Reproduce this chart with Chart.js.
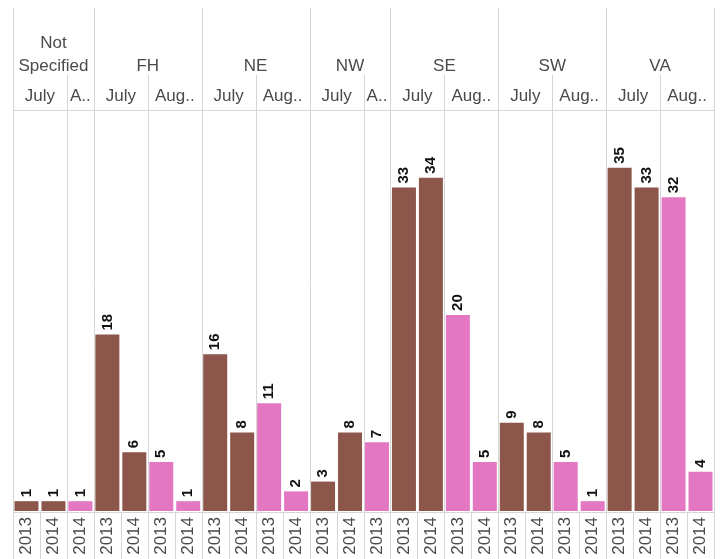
<!DOCTYPE html>
<html>
<head>
<meta charset="utf-8">
<script src="https://cdn.jsdelivr.net/npm/chart.js@4/dist/chart.umd.min.js"></script>
<style>
    html, body { margin: 0; padding: 0; background: #fff; }
    #wrap { width: 723px; height: 559px; position: relative; }
</style>
</head>
<body>
<div id="wrap"><canvas id="chart" width="723" height="559"></canvas></div>
<script>
// one entry per bar (leaf column), left to right
const region = ['Not Specified', 'Not Specified', 'Not Specified',
    'FH', 'FH', 'FH', 'FH',
    'NE', 'NE', 'NE', 'NE',
    'NW', 'NW', 'NW',
    'SE', 'SE', 'SE', 'SE',
    'SW', 'SW', 'SW', 'SW',
    'VA', 'VA', 'VA', 'VA'];
const month = ['July', 'July', 'August',
    'July', 'July', 'August', 'August',
    'July', 'July', 'August', 'August',
    'July', 'July', 'August',
    'July', 'July', 'August', 'August',
    'July', 'July', 'August', 'August',
    'July', 'July', 'August', 'August'];
const year = ['2013', '2014', '2014',
    '2013', '2014', '2013', '2014',
    '2013', '2014', '2013', '2014',
    '2013', '2014', '2013',
    '2013', '2014', '2013', '2014',
    '2013', '2014', '2013', '2014',
    '2013', '2014', '2013', '2014'];
const counts = [1, 1, 1,
    18, 6, 5, 1,
    16, 8, 11, 2,
    3, 8, 7,
    33, 34, 20, 5,
    9, 8, 5, 1,
    35, 33, 32, 4];

const monthColors = { July: '#8c564b', August: '#e377c2' };
const monthShort = { July: 'July', August: 'Aug..' };

const LINE = '#d6d6d6';
const FAMILY = '"Liberation Sans", Arial, sans-serif';
const HEAD_FONT = '17px ' + FAMILY;
const HEAD_COLOR = '#4a4a4a';

// group consecutive equal keys -> [{key, from, to}]
function runs(keys) {
    const out = [];
    keys.forEach((k, i) => {
        const last = out[out.length - 1];
        if (last && last.key === k) last.to = i;
        else out.push({ key: k, from: i, to: i });
    });
    return out;
}

const headers = {
    id: 'headers',
    beforeDatasetsDraw(chart) {
        const { ctx, chartArea: ca, scales: { x } } = chart;
        const colW = x.getPixelForValue(1) - x.getPixelForValue(0);
        const edge = i => x.getPixelForValue(i) - colW / 2;
        const H = chart.height;
        ctx.save();
        ctx.strokeStyle = LINE;
        ctx.lineWidth = 1;
        const vline = (px, y0, y1) => {
            const xx = Math.round(px) + 0.5;
            ctx.beginPath(); ctx.moveTo(xx, y0); ctx.lineTo(xx, y1); ctx.stroke();
        };
        const hline = (y, x0, x1) => {
            const yy = Math.round(y) + 0.5;
            ctx.beginPath(); ctx.moveTo(x0, yy); ctx.lineTo(x1, yy); ctx.stroke();
        };
        const L = edge(0), R = edge(counts.length);
        hline(ca.top - 1, L, R);
        hline(ca.bottom + 1, L, R);

        // leaf separators in the year row
        for (let i = 0; i <= counts.length; i++) vline(edge(i), ca.bottom + 1, H);

        const regRuns = runs(region);
        const monRuns = runs(region.map((r, i) => r + '|' + month[i]));

        regRuns.forEach(r => vline(edge(r.from), 8, H));
        vline(R, 8, H);
        monRuns.forEach(m => {
            if (m.from > 0 && region[m.from] === region[m.from - 1]) vline(edge(m.from), 75, ca.bottom + 1);
        });

        ctx.fillStyle = HEAD_COLOR;
        ctx.font = HEAD_FONT;
        ctx.textAlign = 'center';
        ctx.textBaseline = 'middle';
        regRuns.forEach(r => {
            const cx = (edge(r.from) + edge(r.to + 1)) / 2;
            const w = edge(r.to + 1) - edge(r.from) - 4;
            const lines = ctx.measureText(r.key).width > w ? r.key.split(' ') : [r.key];
            lines.forEach((t, j) => ctx.fillText(t, cx, 66 - (lines.length - 1 - j) * 23));
        });
        monRuns.forEach(m => {
            const cx = (edge(m.from) + edge(m.to + 1)) / 2;
            const mo = month[m.from];
            const t = (m.to === m.from && mo === 'August') ? 'A..' : monthShort[mo];
            ctx.fillText(t, cx, 96);
        });
        ctx.restore();
    },
    afterDatasetsDraw(chart) {
        const { ctx } = chart;
        const meta = chart.getDatasetMeta(0);
        ctx.save();
        ctx.fillStyle = '#111';
        ctx.font = 'bold 15px ' + FAMILY;
        ctx.textAlign = 'left';
        ctx.textBaseline = 'middle';
        meta.data.forEach((bar, i) => {
            ctx.save();
            ctx.translate(bar.x, bar.y - 4);
            ctx.rotate(-Math.PI / 2);
            ctx.fillText(String(counts[i]), 0, 0);
            ctx.restore();
        });
        ctx.restore();
    }
};

new Chart(document.getElementById('chart'), {
    type: 'bar',
    data: {
        labels: year,
        datasets: [{
            data: counts,
            backgroundColor: month.map(m => monthColors[m]),
            borderWidth: 0,
            barPercentage: 0.89,
            categoryPercentage: 1
        }]
    },
    options: {
        responsive: false,
        animation: false,
        layout: { padding: { left: 13, right: 9, top: 111, bottom: 0 } },
        plugins: { legend: { display: false }, tooltip: { enabled: false } },
        scales: {
            x: {
                grid: { display: false, drawTicks: false },
                border: { display: false },
                ticks: {
                    autoSkip: false, minRotation: 90, maxRotation: 90, padding: 6,
                    color: HEAD_COLOR,
                    font: { family: FAMILY, size: 17 }
                },
                afterFit(scale) {
                    scale.height = 48;
                    scale.paddingLeft = 0;
                    scale.paddingRight = 0;
                }
            },
            y: { display: false, min: 0, max: 40.8 }
        }
    },
    plugins: [headers]
});
</script>
</body>
</html>
